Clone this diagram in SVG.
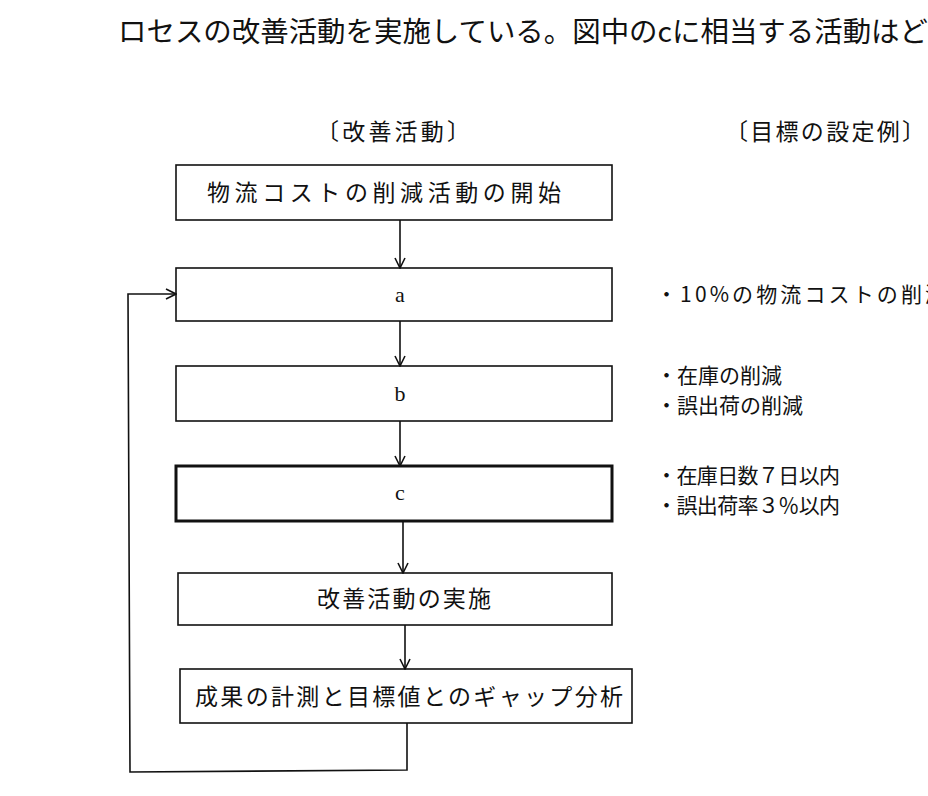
<svg xmlns="http://www.w3.org/2000/svg" width="928" height="796" viewBox="0 0 928 796">
<style>
text{font-family:"Liberation Serif","Noto Sans CJK JP",serif;font-size:22px;fill:#111}
.t{font-family:"Noto Sans CJK JP",sans-serif;font-size:23px}
.g{font-family:"Noto Sans CJK JP",sans-serif;font-size:21px}
.box{fill:#fff;stroke:#111;stroke-width:1.6}
.thick{stroke-width:3}
.c{stroke:#111;stroke-width:1.6;fill:none}
</style>
<defs><marker id="ar" viewBox="0 0 12 12" refX="11" refY="6" markerWidth="12" markerHeight="12" markerUnits="userSpaceOnUse" orient="auto"><path d="M1,1 L11,6 L1,11" fill="none" stroke="#111" stroke-width="1.6"/></marker></defs>
<rect width="928" height="796" fill="#fff"/>
<text class="t" x="118" y="42" style="font-size:28px" textLength="810" lengthAdjust="spacingAndGlyphs">ロセスの改善活動を実施している。図中のcに相当する活動はど</text>
<text class="t" x="316" y="140" textLength="154">〔改善活動〕</text>
<text class="t" x="725" y="140" textLength="200">〔目標の設定例〕</text>
<g id="n1"><rect class="box" x="176" y="165" width="436" height="55"/><text class="t" x="207" y="201" textLength="354">物流コストの削減活動の開始</text></g>
<g id="na"><rect class="box" x="176" y="268" width="436" height="53"/><text x="400" y="302" text-anchor="middle">a</text></g>
<g id="nb"><rect class="box" x="176" y="366" width="436" height="55"/><text x="400" y="401" text-anchor="middle">b</text></g>
<g id="nc"><rect class="box thick" x="176" y="466" width="436" height="55"/><text x="400" y="500" text-anchor="middle">c</text></g>
<g id="n4"><rect class="box" x="178" y="573" width="434" height="52"/><text class="t" x="317" y="607" textLength="174">改善活動の実施</text></g>
<g id="n5"><rect class="box" x="180" y="669" width="452" height="54"/><text class="t" x="195" y="705" textLength="428">成果の計測と目標値とのギャップ分析</text></g>
<g id="goals">
<text class="g" x="656" y="302" textLength="290">・10%の物流コストの削減</text>
<text class="g" x="656" y="383">・在庫の削減</text>
<text class="g" x="656" y="413">・誤出荷の削減</text>
<text class="g" x="656" y="483" textLength="184">・在庫日数７日以内</text>
<text class="g" x="656" y="513" textLength="184">・誤出荷率３％以内</text>
</g>
<g id="connectors">
<line class="c" x1="400" y1="220" x2="400" y2="268" marker-end="url(#ar)"/>
<line class="c" x1="400" y1="321" x2="400" y2="366" marker-end="url(#ar)"/>
<line class="c" x1="400" y1="421" x2="400" y2="466" marker-end="url(#ar)"/>
<line class="c" x1="403" y1="521" x2="403" y2="573" marker-end="url(#ar)"/>
<line class="c" x1="405" y1="625" x2="405" y2="669" marker-end="url(#ar)"/>
<polyline class="c" points="407,723 407,770 130,772 128,294 176,294" marker-end="url(#ar)"/>
</g>
</svg>
